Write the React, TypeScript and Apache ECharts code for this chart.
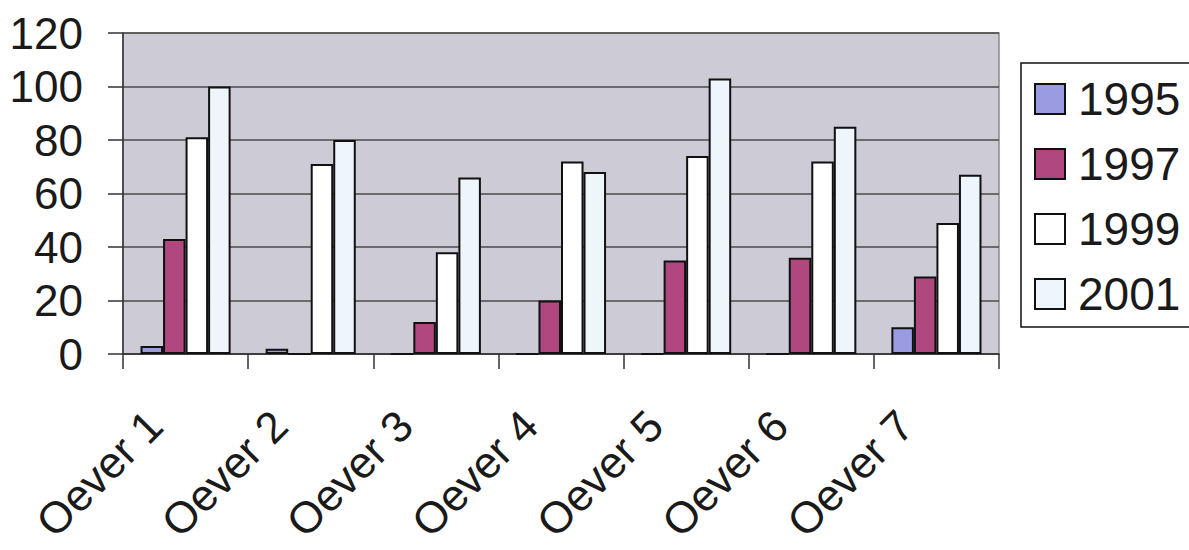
import React, { useEffect, useRef } from "react";
import * as echarts from "echarts";

// Categories along the x axis
const categories = ["Oever 1", "Oever 2", "Oever 3", "Oever 4", "Oever 5", "Oever 6", "Oever 7"];

// Values per survey year
const years = ["1995", "1997", "1999", "2001"];
const values1995 = [3, 2, 0, 0, 0, 0, 10];
const values1997 = [43, 0, 12, 20, 35, 36, 29];
const values1999 = [81, 71, 38, 72, 74, 72, 49];
const values2001 = [100, 80, 66, 68, 103, 85, 67];

const yTicks = { min: 0, max: 120, interval: 20 };

const seriesColors = ["#9a9be0", "#b0477f", "#ffffff", "#eef6fb"];

const FONT = "'Liberation Sans', Arial, sans-serif";

export default function App() {
  const ref = useRef<HTMLDivElement>(null);

  useEffect(() => {
    if (!ref.current) return;
    const chart = echarts.init(ref.current, null, { renderer: "svg" });
    const allValues = [values1995, values1997, values1999, values2001];

    chart.setOption({
      animation: false,
      backgroundColor: "#ffffff",
      textStyle: { fontFamily: FONT },
      grid: {
        left: 123,
        top: 33,
        right: 190,
        bottom: 196,
        outerBoundsMode: "none",
        containLabel: false,
        show: true,
        backgroundColor: "#cdcbd5",
        borderColor: "#8a8a8a",
        borderWidth: 1.5,
      },
      legend: {
        orient: "vertical",
        left: 1021,
        top: 63,
        data: years,
        icon: "rect",
        itemWidth: 30,
        itemHeight: 30,
        itemGap: 19,
        padding: [13, 20, 10, 13],
        borderColor: "#111",
        borderWidth: 1.5,
        itemStyle: { borderColor: "#111", borderWidth: 2 },
        textStyle: {
          fontFamily: FONT,
          fontSize: 46,
          color: "#1a1a1a",
          padding: [0, 0, 0, 8],
        },
      },
      xAxis: {
        type: "category",
        data: categories,
        boundaryGap: true,
        axisLine: { lineStyle: { color: "#333", width: 1.5 } },
        axisTick: { show: true, length: 15, lineStyle: { color: "#333", width: 1.5 } },
        axisLabel: {
          rotate: 45,
          margin: 33,
          fontFamily: FONT,
          fontSize: 44,
          color: "#1a1a1a",
          padding: [0, 44, 0, 0],
          interval: 0,
        },
        splitLine: { show: false },
      },
      yAxis: {
        type: "value",
        min: yTicks.min,
        max: yTicks.max,
        interval: yTicks.interval,
        axisLine: { show: true, lineStyle: { color: "#333", width: 1.5 } },
        axisTick: { show: true, length: 15, lineStyle: { color: "#333", width: 1.5 } },
        axisLabel: {
          margin: 40,
          fontFamily: FONT,
          fontSize: 44,
          color: "#1a1a1a",
        },
        splitLine: { lineStyle: { color: "#4a4a4a", width: 1.5 } },
      },
      series: years.map((name, i) => ({
        name,
        type: "bar",
        data: allValues[i],
        barGap: "0%",
        barCategoryGap: "28%",
        itemStyle: {
          color: seriesColors[i],
          borderColor: "#111",
          borderWidth: 2,
        },
      })),
    });

    return () => chart.dispose();
  }, []);

  return (
    <div
      ref={ref}
      style={{ position: "fixed", left: 0, top: 0, width: 1189, height: 550 }}
    />
  );
}
